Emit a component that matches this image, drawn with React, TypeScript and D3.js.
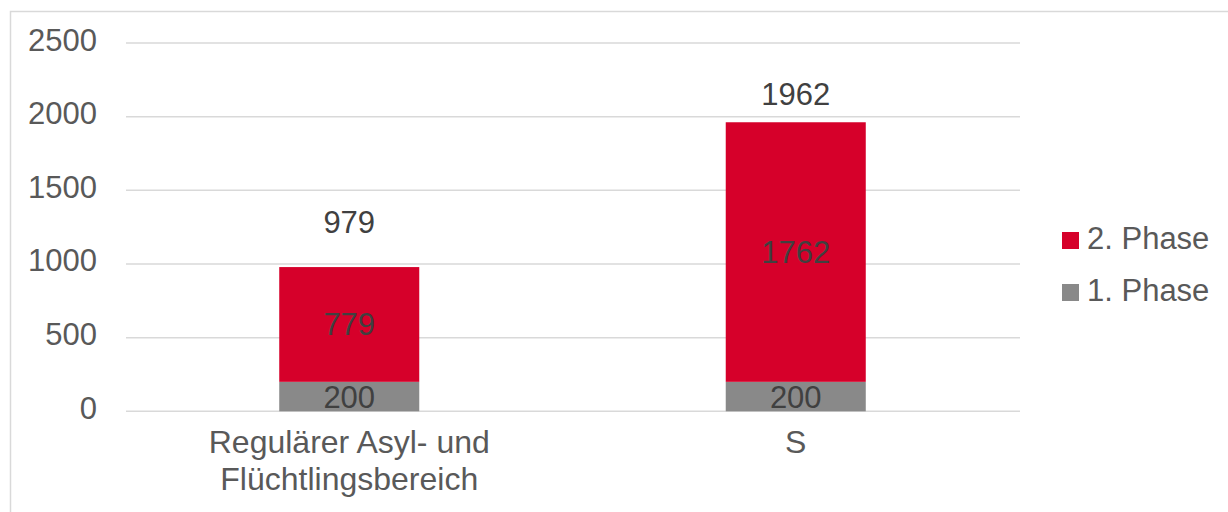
import React from "react";
import * as d3 from "d3";

const categories: string[][] = [["Regulärer Asyl- und", "Flüchtlingsbereich"], ["S"]];
const phase1: number[] = [200, 200];
const phase2: number[] = [779, 1762];
const totals: number[] = [979, 1962];
const yTicks: number[] = [0, 500, 1000, 1500, 2000, 2500];
const seriesNames: string[] = ["2. Phase", "1. Phase"];

// layout (not data)
const W = 1228;
const H = 512;
const plot = { left: 126, right: 1019, top: 43, bottom: 411.3 };
const totalLabelGap = [34, 17];
const RED = "#D6002A";
const GRAY = "#898989";
const FONT = "'Liberation Sans', Arial, sans-serif";
const FS = 31;

export default function App() {
  const x = d3
    .scaleBand<number>()
    .domain(categories.map((_, i) => i))
    .range([plot.left, plot.right])
    .paddingInner(0)
    .paddingOuter(0);
  const y = d3.scaleLinear().domain([0, 2500]).range([plot.bottom, plot.top]);
  const barW = x.bandwidth() * 0.3136;

  return (
    <svg
      width={W}
      height={H}
      style={{ position: "absolute", left: 0, top: 0, background: "#fff" }}
      fontFamily={FONT}
    >
      <rect x={10.5} y={11.5} width={W + 20} height={H + 20} fill="#fff" stroke="#D9D9D9" strokeWidth={1.5} />
      {yTicks.map((t) => (
        <g key={t}>
          <line x1={plot.left} x2={plot.right + 1} y1={y(t)} y2={y(t)} stroke="#D9D9D9" strokeWidth={1.5} />
          <text x={97} y={y(t) + 7.5} textAnchor="end" fontSize={FS} fill="#595959">
            {t}
          </text>
        </g>
      ))}
      {categories.map((cat, i) => {
        const cx = (x(i) as number) + x.bandwidth() / 2;
        const y1 = y(phase1[i]);
        const y2 = y(phase1[i] + phase2[i]);
        return (
          <g key={i}>
            <rect x={cx - barW / 2} y={y1} width={barW} height={y(0) - y1} fill={GRAY} />
            <rect x={cx - barW / 2} y={y2} width={barW} height={y1 - y2} fill={RED} />
            <text x={cx} y={(y1 + y(0)) / 2 + 11} textAnchor="middle" fontSize={FS} fill="#404040">
              {phase1[i]}
            </text>
            <text x={cx} y={(y1 + y2) / 2 + 11} textAnchor="middle" fontSize={FS} fill="#404040">
              {phase2[i]}
            </text>
            <text x={cx} y={y(totals[i]) - totalLabelGap[i]} textAnchor="middle" fontSize={FS} fill="#404040">
              {totals[i]}
            </text>
            <text x={cx} y={453} textAnchor="middle" fontSize={32} fill="#595959">
              {cat.map((line, j) => (
                <tspan key={j} x={cx} dy={j === 0 ? 0 : 37}>
                  {line}
                </tspan>
              ))}
            </text>
          </g>
        );
      })}
      {seriesNames.map((name, k) => (
        <g key={name}>
          <rect x={1062} y={232 + k * 52} width={17} height={17} fill={k === 0 ? RED : GRAY} />
          <text x={1087} y={249 + k * 52} fontSize={FS} fill="#595959">
            {name}
          </text>
        </g>
      ))}
    </svg>
  );
}
